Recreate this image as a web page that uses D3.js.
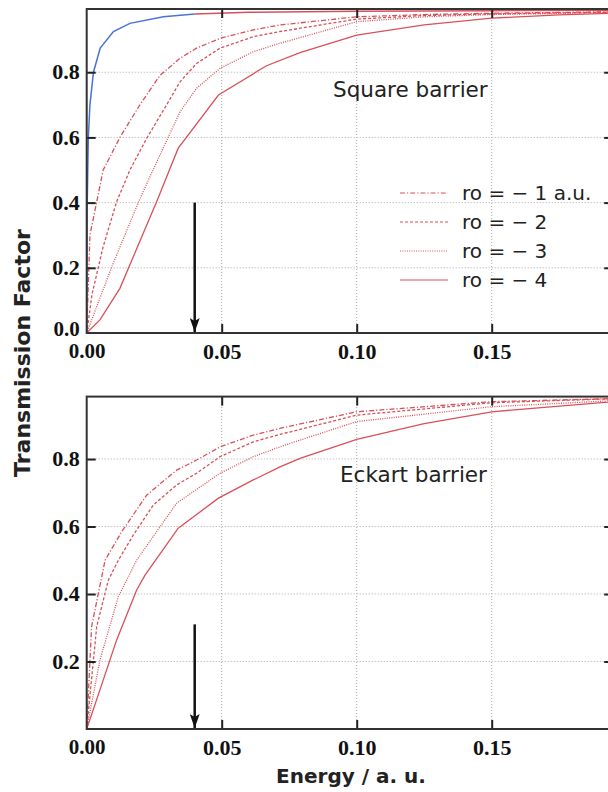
<!DOCTYPE html>
<html>
<head>
<meta charset="utf-8">
<script src="https://cdn.jsdelivr.net/npm/d3@7"></script>
<style>
	body { margin: 0; background: #fff; }
	svg { display: block; }
</style>
</head>
<body>
<div id="chart"></div>
<script>
// energy (a.u.) / transmission factor pairs
const squareClassical = [[0,0],[0.0002,0.4],[0.0006,0.6],[0.0012,0.7],[0.0025,0.8],[0.005,0.874],[0.0099,0.925],[0.016,0.95],[0.0284,0.97],[0.04,0.979]]
const squareClassicalTail = [[0.04,0.979],[0.06,0.984],[0.1,0.987],[0.15,0.989],[0.2,0.99]]
const squareRo1 = [[0,0],[0.0012,0.3],[0.0061,0.5],[0.0123,0.6],[0.0197,0.7],[0.0271,0.79],[0.0346,0.843],[0.0407,0.874],[0.0494,0.904],[0.0617,0.93],[0.0716,0.945],[0.1,0.97],[0.125,0.977],[0.15,0.981],[0.2,0.986]]
const squareRo2 = [[0,0],[0.002,0.12],[0.0061,0.265],[0.0111,0.403],[0.016,0.5],[0.0222,0.597],[0.0296,0.7],[0.0346,0.771],[0.0407,0.827],[0.0494,0.874],[0.0617,0.909],[0.0716,0.925],[0.1,0.963],[0.125,0.974],[0.15,0.979],[0.2,0.985]]
const squareRo3 = [[0,0],[0.0093,0.203],[0.0191,0.4],[0.024,0.49],[0.0346,0.679],[0.0407,0.751],[0.0494,0.812],[0.0617,0.863],[0.0716,0.889],[0.1,0.955],[0.125,0.97],[0.15,0.977],[0.2,0.984]]
const squareRo4 = [[0,0],[0.0049,0.04],[0.0123,0.137],[0.0259,0.403],[0.0339,0.567],[0.0488,0.73],[0.0666,0.82],[0.079,0.86],[0.1,0.914],[0.125,0.945],[0.15,0.966],[0.175,0.976],[0.2,0.982]]

const eckartRo1 = [[0,0],[0.0018,0.303],[0.0068,0.5],[0.013,0.585],[0.0222,0.693],[0.0333,0.767],[0.0407,0.797],[0.0494,0.836],[0.0617,0.871],[0.0716,0.891],[0.1,0.94],[0.15,0.97],[0.2,0.98]]
const eckartRo2 = [[0,0],[0.0037,0.303],[0.008,0.441],[0.0117,0.5],[0.0173,0.575],[0.0247,0.664],[0.0333,0.723],[0.0407,0.758],[0.0494,0.807],[0.0617,0.851],[0.0716,0.873],[0.1,0.93],[0.15,0.967],[0.2,0.98]]
const eckartRo3 = [[0,0],[0.0049,0.204],[0.0117,0.392],[0.0185,0.5],[0.0259,0.585],[0.0333,0.669],[0.0494,0.758],[0.0617,0.807],[0.0716,0.836],[0.079,0.856],[0.1,0.911],[0.15,0.955],[0.2,0.975]]
const eckartRo4 = [[0,0],[0.0049,0.116],[0.0111,0.264],[0.0185,0.412],[0.0216,0.456],[0.0339,0.595],[0.0488,0.684],[0.0617,0.738],[0.0716,0.777],[0.079,0.802],[0.1,0.858],[0.125,0.905],[0.15,0.94],[0.2,0.973]]

const legendLabels = ["ro = \u2212 1 a.u.", "ro = \u2212 2", "ro = \u2212 3", "ro = \u2212 4"]
const dashStyles = ["5,2,1.2,2", "3,2", "1,1.3", null]
const xTicks = [0, 0.05, 0.10, 0.15]
const yTicksTop = [0, 0.2, 0.4, 0.6, 0.8]
const yTicksBottom = [0.2, 0.4, 0.6, 0.8]
const arrowEnergy = 0.04
const arrowTopStart = 0.4
const arrowBottomStart = 0.31

let
	width = 608,
	height = 792,
	red = "#d8505a",
	blue = "#4a72d6",
	x = d3.scaleLinear().domain([0, 0.195]).range([86.7, 613.2]),
	svg = d3.select("#chart")
		.append("svg")
		.attr("width", width)
		.attr("height", height)

svg.append("defs").append("marker")
	.attr("id", "head")
	.attr("viewBox", "0 0 14 10")
	.attr("refX", 14)
	.attr("refY", 5)
	.attr("markerUnits", "userSpaceOnUse")
	.attr("markerWidth", 14)
	.attr("markerHeight", 10)
	.attr("orient", "auto")
	.append("path")
	.attr("d", "M0,0L14,5L0,10L3,5Z")
	.attr("fill", "#111")

function panel(y, series, yTicks, title, titleX, titleY, arrowStart, legend, classical){
	let g = svg.append("g"),
		x0 = x.range()[0], x1 = x.range()[1],
		y0 = y.range()[0], y1 = y.range()[1]

	// dotted grid
	let grid = g.append("g")
		.attr("stroke", "#aaa")
		.attr("stroke-width", 1)
		.attr("stroke-dasharray", "1,2")
	grid.selectAll(".gx")
		.data(xTicks.filter(d => d > 0))
		.join("line")
		.attr("class", "gx")
		.attr("x1", d => x(d)).attr("x2", d => x(d))
		.attr("y1", y0).attr("y2", y1)
	grid.selectAll(".gy")
		.data([0.2, 0.4, 0.6, 0.8])
		.join("line")
		.attr("class", "gy")
		.attr("x1", x0).attr("x2", x1)
		.attr("y1", d => y(d)).attr("y2", d => y(d))

	let line = d3.line().x(d => x(d[0])).y(d => y(d[1]))

	g.append("g")
		.attr("fill", "none")
		.attr("stroke", red)
		.attr("stroke-width", 1.3)
		.selectAll("path")
		.data(series)
		.join("path")
		.attr("d", line)
		.attr("stroke-dasharray", (d, i) => dashStyles[i])

	if (classical){
		g.append("path")
			.attr("d", line(classical[1]))
			.attr("fill", "none")
			.attr("stroke", red)
			.attr("stroke-width", 1.5)
		g.append("path")
			.attr("d", line(classical[0]))
			.attr("fill", "none")
			.attr("stroke", blue)
			.attr("stroke-width", 1.5)
	}

	// axes, ticks pointing inwards
	let fmtX = d3.format(".2f"), fmtY = d3.format(".1f")
	let axes = [
		g.append("g").attr("transform", `translate(0,${y0})`)
			.call(d3.axisBottom(x).tickValues(xTicks).tickFormat(fmtX).tickSize(-9).tickSizeOuter(0).tickPadding(10)),
		g.append("g").attr("transform", `translate(0,${y1})`)
			.call(d3.axisTop(x).tickValues(xTicks.filter(d => d > 0)).tickFormat("").tickSize(-9).tickSizeOuter(0)),
		g.append("g").attr("transform", `translate(${x0},0)`)
			.call(d3.axisLeft(y).tickValues(yTicks).tickFormat(fmtY).tickSize(-9).tickSizeOuter(0).tickPadding(7)),
		g.append("g").attr("transform", `translate(${x1},0)`)
			.call(d3.axisRight(y).tickValues(yTicks.filter(d => d > 0)).tickFormat("").tickSize(-9).tickSizeOuter(0))
	]
	axes.forEach(a => {
		a.select(".domain").remove()
		a.selectAll(".tick line").attr("stroke", "#222").attr("stroke-width", 2)
		a.selectAll("text")
			.attr("fill", "#111")
			.attr("font-family", "Liberation Serif, serif")
			.attr("font-weight", "bold")
			.attr("font-size", 22)
	})
	axes[0].selectAll(".tick").filter(d => d === 0).select("line").remove()
	axes[2].selectAll(".tick").filter(d => d === 0).select("line").remove()
	axes[2].selectAll(".tick text").attr("dy", "0.3em")
	// the 0.0 label sits a bit higher so it clears 0.00 below
	axes[2].selectAll(".tick").filter(d => d === 0).select("text").attr("dy", "0.1em").attr("font-size", 21)
	axes[0].selectAll(".tick").filter(d => d === 0).select("text").attr("font-size", 21)

	g.append("rect")
		.attr("x", x0).attr("y", y1)
		.attr("width", x1 - x0).attr("height", y0 - y1)
		.attr("fill", "none")
		.attr("stroke", "#333")
		.attr("stroke-width", 2)

	g.append("text")
		.attr("x", titleX).attr("y", titleY)
		.attr("font-family", "DejaVu Sans, sans-serif")
		.attr("font-size", 21.5)
		.attr("fill", "#222")
		.text(title)

	g.append("line")
		.attr("x1", x(arrowEnergy)).attr("x2", x(arrowEnergy))
		.attr("y1", y(arrowStart)).attr("y2", y(0) - 1)
		.attr("stroke", "#111")
		.attr("stroke-width", 2.5)
		.attr("marker-end", "url(#head)")

	if (legend){
		let lg = g.append("g")
			.selectAll("g")
			.data(legendLabels)
			.join("g")
			.attr("transform", (d, i) => `translate(400,${193 + i * 29})`)
		lg.append("line")
			.attr("x1", 0).attr("x2", 48)
			.attr("stroke", red)
			.attr("stroke-width", 1.2)
			.attr("stroke-dasharray", (d, i) => dashStyles[i])
		lg.append("text")
			.attr("x", 62)
			.attr("dy", "0.36em")
			.attr("font-family", "DejaVu Sans, sans-serif")
			.attr("font-size", 20)
			.attr("fill", "#222")
			.text(d => d)
	}
}

panel(
	d3.scaleLinear().domain([0, 0.994]).range([333, 9]),
	[squareRo1, squareRo2, squareRo3, squareRo4],
	yTicksTop, "Square barrier", 333, 97, arrowTopStart, true, [squareClassical, squareClassicalTail]
)
panel(
	d3.scaleLinear().domain([0, 0.985]).range([729, 396.6]),
	[eckartRo1, eckartRo2, eckartRo3, eckartRo4],
	yTicksBottom, "Eckart barrier", 340, 482, arrowBottomStart, false, null
)

svg.append("text")
	.attr("transform", "translate(30,353) rotate(-90)")
	.attr("text-anchor", "middle")
	.attr("font-family", "DejaVu Sans, sans-serif")
	.attr("font-weight", "bold")
	.attr("font-size", 22)
	.attr("fill", "#222")
	.text("Transmission Factor")

svg.append("text")
	.attr("x", 351).attr("y", 783)
	.attr("text-anchor", "middle")
	.attr("font-family", "DejaVu Sans, sans-serif")
	.attr("font-weight", "bold")
	.attr("font-size", 20)
	.attr("fill", "#222")
	.text("Energy / a. u.")
</script>
</body>
</html>
